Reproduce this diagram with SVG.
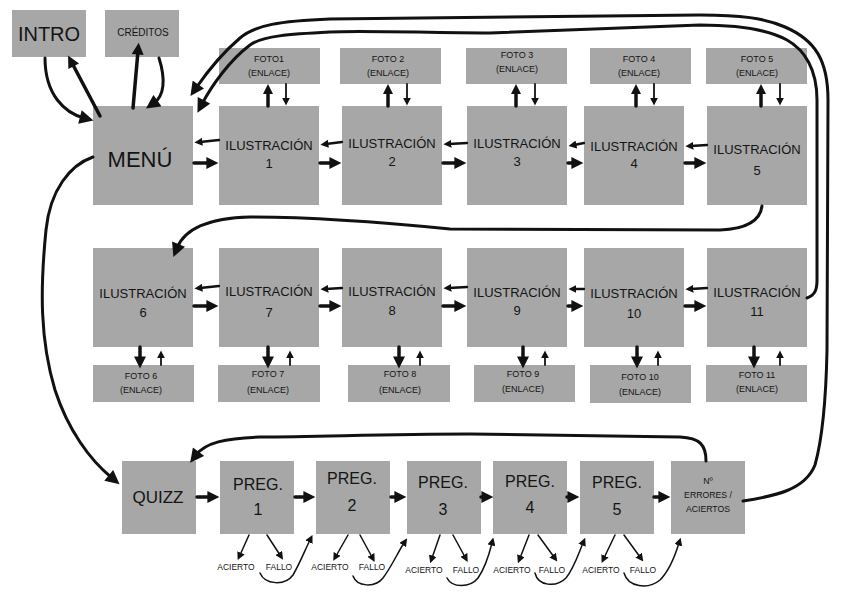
<svg xmlns="http://www.w3.org/2000/svg" width="842" height="595" viewBox="0 0 842 595">
<style>
.box{fill:#a7a7a7}
text{font-family:"Liberation Sans",Arial,sans-serif;fill:#141414;text-anchor:middle}
.t20{font-size:20px}
.t22{font-size:22px}
.t13{font-size:13px}
.t9{font-size:9px}
.t10{font-size:10px}
.t16{font-size:16px}
.t17{font-size:17px}
.t85{font-size:8.5px}
.t87{font-size:8.7px}
.c{fill:none;stroke:#111;stroke-linecap:round;stroke-linejoin:round}
.w35{stroke-width:3.5}
.w3{stroke-width:3}
.w25{stroke-width:2.3}
.w18{stroke-width:1.8}
.w15{stroke-width:1.5}
</style>
<defs>
<marker id="big" viewBox="0 0 10 10" refX="3" refY="5" markerUnits="userSpaceOnUse" markerWidth="13" markerHeight="12" orient="auto"><path d="M0,0 L10,5 L0,10 z" fill="#111"/></marker>
<marker id="mid" viewBox="0 0 10 10" refX="3" refY="5" markerUnits="userSpaceOnUse" markerWidth="10" markerHeight="12" orient="auto"><path d="M0,0 L10,5 L0,10 z" fill="#111"/></marker>
<marker id="sm" viewBox="0 0 10 10" refX="3" refY="5" markerUnits="userSpaceOnUse" markerWidth="8" markerHeight="8" orient="auto"><path d="M0,0 L10,5 L0,10 z" fill="#111"/></marker>
<marker id="cv" viewBox="0 0 10 10" refX="3" refY="5" markerUnits="userSpaceOnUse" markerWidth="15" markerHeight="14" orient="auto"><path d="M0,0 L10,5 L0,10 z" fill="#111"/></marker>
</defs>

<g id="intro"><rect class="box" x="12" y="10" width="74" height="47"/><text class="t20" x="49" y="41">INTRO</text></g>
<g id="creditos"><rect class="box" x="105" y="10" width="74" height="47"/><text class="t10" x="143" y="36">CRÉDITOS</text></g>
<g id="menu"><rect class="box" x="93" y="106" width="100" height="99"/><text class="t22" x="140" y="167">MENÚ</text></g>

<g id="ilus1"><rect class="box" x="219" y="106" width="100" height="99"/><text class="t13" x="269" y="150">ILUSTRACIÓN</text><text class="t13" x="269" y="168">1</text></g>
<g id="ilus2"><rect class="box" x="342" y="106" width="100" height="99"/><text class="t13" x="392" y="148">ILUSTRACIÓN</text><text class="t13" x="392" y="166">2</text></g>
<g id="ilus3"><rect class="box" x="467" y="106" width="100" height="99"/><text class="t13" x="517" y="148">ILUSTRACIÓN</text><text class="t13" x="517" y="166">3</text></g>
<g id="ilus4"><rect class="box" x="584" y="106" width="100" height="99"/><text class="t13" x="634" y="151">ILUSTRACIÓN</text><text class="t13" x="634" y="168">4</text></g>
<g id="ilus5"><rect class="box" x="707" y="106" width="100" height="99"/><text class="t13" x="757" y="154">ILUSTRACIÓN</text><text class="t13" x="757" y="175">5</text></g>

<g id="foto1"><rect class="box" x="219" y="48" width="101" height="36"/><text class="t9" x="269" y="62">FOTO1</text><text class="t9" x="269" y="76">(ENLACE)</text></g>
<g id="foto2"><rect class="box" x="340" y="48" width="101" height="36"/><text class="t9" x="388" y="62">FOTO 2</text><text class="t9" x="388" y="76">(ENLACE)</text></g>
<g id="foto3"><rect class="box" x="466" y="48" width="101" height="36"/><text class="t9" x="517" y="58">FOTO 3</text><text class="t9" x="517" y="72">(ENLACE)</text></g>
<g id="foto4"><rect class="box" x="590" y="48" width="101" height="36"/><text class="t9" x="639" y="62">FOTO 4</text><text class="t9" x="639" y="76">(ENLACE)</text></g>
<g id="foto5"><rect class="box" x="706" y="48" width="101" height="36"/><text class="t9" x="757" y="62">FOTO 5</text><text class="t9" x="757" y="76">(ENLACE)</text></g>

<g id="ilus6"><rect class="box" x="93" y="248" width="100" height="99"/><text class="t13" x="143" y="298">ILUSTRACIÓN</text><text class="t13" x="143" y="317">6</text></g>
<g id="ilus7"><rect class="box" x="219" y="248" width="100" height="99"/><text class="t13" x="269" y="296">ILUSTRACIÓN</text><text class="t13" x="269" y="317">7</text></g>
<g id="ilus8"><rect class="box" x="342" y="248" width="100" height="99"/><text class="t13" x="392" y="296">ILUSTRACIÓN</text><text class="t13" x="392" y="315">8</text></g>
<g id="ilus9"><rect class="box" x="467" y="248" width="100" height="99"/><text class="t13" x="517" y="297">ILUSTRACIÓN</text><text class="t13" x="517" y="315">9</text></g>
<g id="ilus10"><rect class="box" x="584" y="248" width="100" height="99"/><text class="t13" x="634" y="298">ILUSTRACIÓN</text><text class="t13" x="634" y="318">10</text></g>
<g id="ilus11"><rect class="box" x="707" y="248" width="100" height="99"/><text class="t13" x="757" y="297">ILUSTRACIÓN</text><text class="t13" x="757" y="316">11</text></g>

<g id="foto6"><rect class="box" x="93" y="365" width="101" height="37"/><text class="t9" x="141" y="379">FOTO 6</text><text class="t9" x="141" y="393">(ENLACE)</text></g>
<g id="foto7"><rect class="box" x="218" y="365" width="102" height="37"/><text class="t9" x="268" y="377">FOTO 7</text><text class="t9" x="268" y="393">(ENLACE)</text></g>
<g id="foto8"><rect class="box" x="348" y="365" width="102" height="37"/><text class="t9" x="400" y="377">FOTO 8</text><text class="t9" x="400" y="393">(ENLACE)</text></g>
<g id="foto9"><rect class="box" x="474" y="365" width="101" height="37"/><text class="t9" x="523" y="377">FOTO 9</text><text class="t9" x="523" y="392">(ENLACE)</text></g>
<g id="foto10"><rect class="box" x="590" y="365" width="101" height="38"/><text class="t9" x="640" y="380">FOTO 10</text><text class="t9" x="640" y="395">(ENLACE)</text></g>
<g id="foto11"><rect class="box" x="706" y="365" width="101" height="37"/><text class="t9" x="757" y="378">FOTO 11</text><text class="t9" x="757" y="392">(ENLACE)</text></g>

<g id="quizz"><rect class="box" x="122" y="461" width="74" height="73"/><text class="t17" x="158" y="503">QUIZZ</text></g>
<g id="preg1"><rect class="box" x="220" y="461" width="74" height="73"/><text class="t16" x="258" y="490">PREG.</text><text class="t16" x="258" y="515">1</text></g>
<g id="preg2"><rect class="box" x="316" y="461" width="74" height="73"/><text class="t16" x="352" y="484">PREG.</text><text class="t16" x="352" y="511">2</text></g>
<g id="preg3"><rect class="box" x="407" y="461" width="74" height="73"/><text class="t16" x="443" y="488">PREG.</text><text class="t16" x="443" y="515">3</text></g>
<g id="preg4"><rect class="box" x="493" y="461" width="74" height="73"/><text class="t16" x="530" y="487">PREG.</text><text class="t16" x="530" y="513">4</text></g>
<g id="preg5"><rect class="box" x="580" y="461" width="74" height="73"/><text class="t16" x="617" y="488">PREG.</text><text class="t16" x="617" y="515">5</text></g>
<g id="errores"><rect class="box" x="671" y="461" width="74" height="73"/><text class="t87" x="708" y="484">Nº</text><text class="t87" x="708" y="498">ERRORES /</text><text class="t87" x="708" y="512">ACIERTOS</text></g>

<g id="resultados">
<text class="t85" x="236" y="570">ACIERTO</text><text class="t85" x="279" y="570">FALLO</text>
<text class="t85" x="330" y="570">ACIERTO</text><text class="t85" x="372" y="570">FALLO</text>
<text class="t85" x="424" y="573">ACIERTO</text><text class="t85" x="466" y="573">FALLO</text>
<text class="t85" x="512" y="573">ACIERTO</text><text class="t85" x="552" y="573">FALLO</text>
<text class="t85" x="601" y="573">ACIERTO</text><text class="t85" x="643" y="573">FALLO</text>
</g>

<g id="connectors">
<path class="c w35" d="M100,116 L72,63" marker-end="url(#big)"/>
<path class="c w3" d="M45,58 C45,95 65,113 84,118" marker-end="url(#cv)"/>
<path class="c w35" d="M133,108 L138,51" marker-end="url(#big)"/>
<path class="c w3" d="M159,58 C166,80 164,96 154,103" marker-end="url(#cv)"/>
<path class="c w35" d="M194,163 L210,163" marker-end="url(#big)"/>
<path class="c w35" d="M320,163 L333,163" marker-end="url(#big)"/>
<path class="c w35" d="M443,163 L458,163" marker-end="url(#big)"/>
<path class="c w35" d="M568,163 L575,163" marker-end="url(#big)"/>
<path class="c w35" d="M685,163 L698,163" marker-end="url(#big)"/>
<path class="c w25" d="M219,140 L200,142" marker-end="url(#sm)"/>
<path class="c w25" d="M342,142 L326,144" marker-end="url(#sm)"/>
<path class="c w25" d="M467,143 L449,144" marker-end="url(#sm)"/>
<path class="c w25" d="M584,143 L574,145" marker-end="url(#sm)"/>
<path class="c w25" d="M707,145 L691,146" marker-end="url(#sm)"/>
<path class="c w35" d="M268,106 L268,91" marker-end="url(#mid)"/>
<path class="c w18" d="M286,84 L286,100" marker-end="url(#sm)"/>
<path class="c w35" d="M388,106 L388,91" marker-end="url(#mid)"/>
<path class="c w18" d="M407,84 L407,100" marker-end="url(#sm)"/>
<path class="c w35" d="M516,106 L516,91" marker-end="url(#mid)"/>
<path class="c w18" d="M535,84 L535,100" marker-end="url(#sm)"/>
<path class="c w35" d="M636,106 L636,91" marker-end="url(#mid)"/>
<path class="c w18" d="M654,84 L654,100" marker-end="url(#sm)"/>
<path class="c w35" d="M761,106 L761,91" marker-end="url(#mid)"/>
<path class="c w18" d="M780,84 L780,100" marker-end="url(#sm)"/>
<path class="c w3" d="M762,206 C760,222 745,229 720,230 L450,229 C380,222 300,217 250,217 C210,218 185,228 177,248" marker-end="url(#cv)"/>
<path class="c w35" d="M194,306 L210,306" marker-end="url(#big)"/>
<path class="c w35" d="M320,306 L333,306" marker-end="url(#big)"/>
<path class="c w35" d="M443,306 L458,306" marker-end="url(#big)"/>
<path class="c w35" d="M568,306 L575,306" marker-end="url(#big)"/>
<path class="c w35" d="M685,306 L698,306" marker-end="url(#big)"/>
<path class="c w25" d="M219,286 L200,288" marker-end="url(#sm)"/>
<path class="c w25" d="M342,288 L326,289" marker-end="url(#sm)"/>
<path class="c w25" d="M467,287 L449,288" marker-end="url(#sm)"/>
<path class="c w25" d="M584,289 L574,289" marker-end="url(#sm)"/>
<path class="c w25" d="M707,288 L691,289" marker-end="url(#sm)"/>
<path class="c w35" d="M140,347 L140,360" marker-end="url(#big)"/>
<path class="c w18" d="M161,365 L161,356" marker-end="url(#sm)"/>
<path class="c w35" d="M268,347 L268,360" marker-end="url(#big)"/>
<path class="c w18" d="M290,365 L290,356" marker-end="url(#sm)"/>
<path class="c w35" d="M399,347 L399,360" marker-end="url(#big)"/>
<path class="c w18" d="M420,365 L420,356" marker-end="url(#sm)"/>
<path class="c w35" d="M523,347 L523,360" marker-end="url(#big)"/>
<path class="c w18" d="M545,365 L545,356" marker-end="url(#sm)"/>
<path class="c w35" d="M637,347 L637,360" marker-end="url(#big)"/>
<path class="c w18" d="M658,365 L658,356" marker-end="url(#sm)"/>
<path class="c w35" d="M754,347 L754,360" marker-end="url(#big)"/>
<path class="c w18" d="M780,365 L780,356" marker-end="url(#sm)"/>
<path class="c w3" d="M743,501 C775,496 805,490 815,465 C822,440 826,400 827,350 L828,100 C828,60 815,40 785,27 C765,18 740,15 700,15 L330,19 C280,21 255,25 240,38 C220,55 205,75 196,88" marker-end="url(#cv)"/>
<path class="c w3" d="M807,298 C815,295 817,290 817,280 L817,100 C817,70 805,50 787,40 C765,28 730,25 700,25 L490,33 C430,33 360,30 330,32 C290,34 262,36 250,45 C230,60 212,85 202,104" marker-end="url(#cv)"/>
<path class="c w3" d="M93,157 C70,165 50,190 46,230 C40,290 40,340 55,390 C68,430 90,460 112,478" marker-end="url(#cv)"/>
<path class="c w3" d="M706,461 C706,445 700,438 680,437 L470,434 C380,434 320,437 260,437 C225,438 205,443 196,455" marker-end="url(#cv)"/>
<path class="c w35" d="M197,497 L211,497" marker-end="url(#big)"/>
<path class="c w35" d="M295,497 L307,497" marker-end="url(#big)"/>
<path class="c w35" d="M391,497 L398,497" marker-end="url(#big)"/>
<path class="c w35" d="M481,497 L485,497" marker-end="url(#big)"/>
<path class="c w35" d="M567,497 L571,497" marker-end="url(#big)"/>
<path class="c w35" d="M654,497 L662,497" marker-end="url(#big)"/>
<path class="c w15" d="M249,535 L240,555" marker-end="url(#sm)"/>
<path class="c w15" d="M267,535 L280,555" marker-end="url(#sm)"/>
<path class="c w15" d="M348,535 L336,556" marker-end="url(#sm)"/>
<path class="c w15" d="M360,535 L372,557" marker-end="url(#sm)"/>
<path class="c w15" d="M440,535 L432,558" marker-end="url(#sm)"/>
<path class="c w15" d="M453,535 L465,557" marker-end="url(#sm)"/>
<path class="c w15" d="M529,535 L520,558" marker-end="url(#sm)"/>
<path class="c w15" d="M538,535 L554,557" marker-end="url(#sm)"/>
<path class="c w15" d="M615,535 L604,558" marker-end="url(#sm)"/>
<path class="c w15" d="M624,535 L640,557" marker-end="url(#sm)"/>
<path class="c w15" d="M260,573 C265,585 285,586 293,575 C300,563 305,550 310,540" marker-end="url(#sm)"/>
<path class="c w15" d="M353,576 C357,587 375,588 383,578 C392,566 398,552 404,543" marker-end="url(#sm)"/>
<path class="c w15" d="M447,578 C452,588 470,588 478,578 C485,568 489,555 492,543" marker-end="url(#sm)"/>
<path class="c w15" d="M535,573 C538,586 556,588 566,578 C574,568 578,555 583,543" marker-end="url(#sm)"/>
<path class="c w15" d="M624,573 C628,587 648,590 660,580 C670,570 675,556 679,543" marker-end="url(#sm)"/>
</g>
</svg>
